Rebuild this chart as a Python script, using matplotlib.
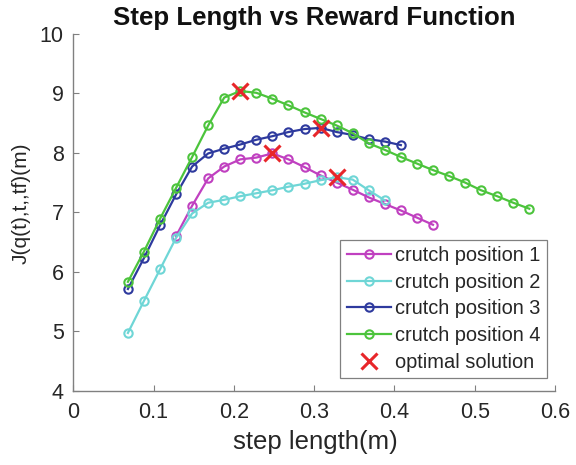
import matplotlib
matplotlib.use("Agg")
import matplotlib.pyplot as plt
import numpy as np

plt.rcParams['font.family'] = ['Liberation Sans', 'DejaVu Sans']

# Step lengths (m) sampled for each crutch position
x_pos1 = [0.128, 0.148, 0.168, 0.188, 0.208, 0.228, 0.248, 0.268, 0.288,
          0.308, 0.328, 0.348, 0.368, 0.388, 0.408, 0.428, 0.448]
y_pos1 = [6.60, 7.11, 7.57, 7.77, 7.89, 7.92, 7.99, 7.89, 7.76,
          7.62, 7.50, 7.38, 7.25, 7.14, 7.03, 6.91, 6.79]

x_pos2 = [0.068, 0.088, 0.108, 0.128, 0.148, 0.168, 0.188, 0.208, 0.228,
          0.248, 0.268, 0.288, 0.308, 0.328, 0.348, 0.368, 0.388]
y_pos2 = [4.97, 5.51, 6.04, 6.57, 6.98, 7.16, 7.21, 7.27, 7.32,
          7.37, 7.43, 7.48, 7.54, 7.59, 7.55, 7.37, 7.20]

x_pos3 = [0.068, 0.088, 0.108, 0.128, 0.148, 0.168, 0.188, 0.208, 0.228,
          0.248, 0.268, 0.288, 0.308, 0.328, 0.348, 0.368, 0.388, 0.408]
y_pos3 = [5.71, 6.23, 6.78, 7.30, 7.77, 7.99, 8.07, 8.14, 8.22,
          8.28, 8.35, 8.40, 8.42, 8.35, 8.30, 8.23, 8.19, 8.13]

x_pos4 = [0.068, 0.088, 0.108, 0.128, 0.148, 0.168, 0.188, 0.208, 0.228,
          0.248, 0.268, 0.288, 0.308, 0.328, 0.348, 0.368, 0.388, 0.408,
          0.428, 0.448, 0.468, 0.488, 0.508, 0.528, 0.548, 0.568]
y_pos4 = [5.83, 6.34, 6.89, 7.41, 7.93, 8.46, 8.93, 9.04, 9.01,
          8.91, 8.80, 8.68, 8.57, 8.46, 8.33, 8.16, 8.05, 7.93,
          7.82, 7.71, 7.61, 7.50, 7.37, 7.27, 7.16, 7.06]

labels = ['crutch position 1', 'crutch position 2',
          'crutch position 3', 'crutch position 4']
colors = ['#C040C0', '#6FD6D6', '#2E3A9E', '#4CC43C']

xticks = [0, 0.1, 0.2, 0.3, 0.4, 0.5, 0.6]
xticklabels = ['0', '0.1', '0.2', '0.3', '0.4', '0.5', '0.6']
yticks = [4, 5, 6, 7, 8, 9, 10]

fig = plt.figure(figsize=(5.76, 4.65), dpi=100)
ax = fig.add_axes([0.1273, 0.160, 0.8362, 0.767])

series = [(x_pos1, y_pos1), (x_pos2, y_pos2), (x_pos3, y_pos3), (x_pos4, y_pos4)]
handles = []
for (xs, ys), lab, c in zip(series, labels, colors):
    h, = ax.plot(xs, ys, '-o', color=c, lw=1.6, ms=6, mfc='none', mew=1.5,
                 label=lab)
    handles.append(h)

# best step length of every series
opt_x = [xs[int(np.argmax(ys))] for xs, ys in series]
opt_y = [max(ys) for xs, ys in series]
hx, = ax.plot(opt_x, opt_y, 'x', color='#E8262A', ms=12, mew=2.2,
              linestyle='none', label='optimal solution', zorder=5)
handles.append(hx)

ax.set_xlim(0, 0.6)
ax.set_ylim(4, 10)
ax.set_xticks(xticks)
ax.set_xticklabels(xticklabels)
ax.set_yticks(yticks)

for side in ['top', 'right']:
    ax.spines[side].set_visible(False)
for side in ['left', 'bottom']:
    ax.spines[side].set_color('#808080')
    ax.spines[side].set_linewidth(1.0)
ax.tick_params(direction='in', length=4, width=0.8, color='#808080',
               labelsize=15.5, labelcolor='#262626')
ax.tick_params(axis='x', pad=8)
ax.tick_params(axis='y', pad=7)

leg = ax.legend(handles=handles, loc='lower right',
                bbox_to_anchor=(0.983, 0.035), fontsize=14.4,
                frameon=True, fancybox=False, edgecolor='#808080',
                framealpha=1, handlelength=2.2, labelspacing=0.38,
                borderpad=0.33, handletextpad=0.2, borderaxespad=0)
leg.get_frame().set_linewidth(0.9)
for t in leg.get_texts():
    t.set_color('#262626')

fig.text(314 / 576, 1 - 18 / 465, 'Step Length vs Reward Function',
         ha='center', va='center', fontsize=18.6, fontweight='bold',
         color='#111111')
fig.text(315 / 576, 1 - 442 / 465, 'step length(m)', ha='center',
         va='center', fontsize=18.5, color='#262626')
fig.text(21 / 576, 1 - 203 / 465, 'J(q(t),t,,tf)(m)', ha='center',
         va='center', rotation=90, fontsize=15, color='#262626')

fig.savefig('out.png', dpi=100)
